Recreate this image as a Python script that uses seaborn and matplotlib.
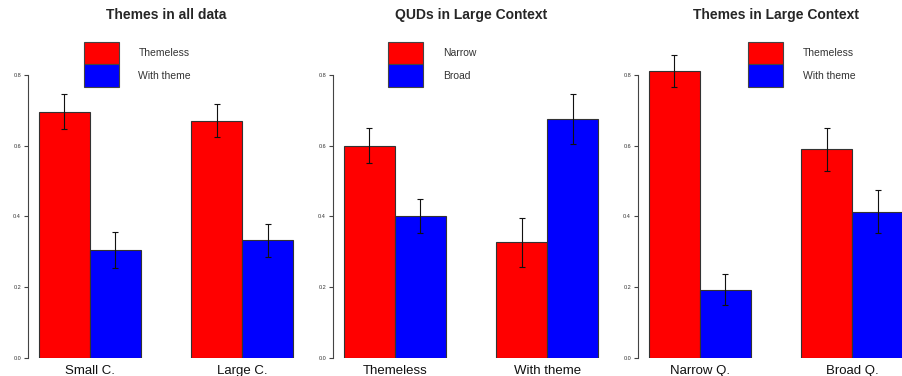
import pandas as pd
import matplotlib.pyplot as plt
from matplotlib.patches import Patch
import seaborn as sns

# Panel titles, group names, legend labels
titles = ['Themes in all data', 'QUDs in Large Context', 'Themes in Large Context']
groups = [['Small C.', 'Large C.'], ['Themeless', 'With theme'], ['Narrow Q.', 'Broad Q.']]
legends = [['Themeless', 'With theme'], ['Narrow', 'Broad'], ['Themeless', 'With theme']]

# red (first) and blue (second) series per panel, with error sizes
red_vals = [[0.696, 0.670], [0.600, 0.327], [0.810, 0.589]]
blue_vals = [[0.305, 0.333], [0.401, 0.675], [0.194, 0.414]]
red_err = [[0.050, 0.046], [0.049, 0.070], [0.046, 0.061]]
blue_err = [[0.051, 0.047], [0.048, 0.070], [0.045, 0.061]]
colors = ['#ff0000', '#0000ff']

W, H = 902, 376
ax_left = [28, 333, 638]
leg_left = [83.5, 388, 748]

sns.set_style('white')
plt.rcParams['font.family'] = ['Liberation Sans', 'DejaVu Sans']

fig = plt.figure(figsize=(W / 100, H / 100), dpi=100)

for i in range(3):
    ax = fig.add_axes([ax_left[i] / W, (H - 358.3) / H, 276 / W, (358.3 - 21.5) / H])
    df = pd.DataFrame({
        'group': groups[i] * 2,
        'cond': [legends[i][0]] * 2 + [legends[i][1]] * 2,
        'value': red_vals[i] + blue_vals[i],
    })
    sns.barplot(data=df, x='group', y='value', hue='cond', palette=colors,
                width=2 / 3, gap=0, saturation=1, edgecolor='#333333',
                linewidth=0.8, legend=False, ax=ax)

    # error bars on top of the bars
    errs = [red_err[i][0], blue_err[i][0], red_err[i][1], blue_err[i][1]]
    bars = sorted(ax.patches, key=lambda p: p.get_x())
    xs = [p.get_x() + p.get_width() / 2 for p in bars]
    ys = [p.get_height() for p in bars]
    ax.errorbar(xs, ys, yerr=errs, fmt='none', ecolor='#111111',
                elinewidth=0.8, capsize=2, capthick=0.8)

    ax.set_xlim(-0.405, 1.405)
    ax.set_ylim(0, 0.95)
    ax.set_xlabel('')
    ax.set_ylabel('')
    ax.set_yticks([0, 0.2, 0.4, 0.6, 0.8])
    ax.set_yticklabels(['0.0', '0.2', '0.4', '0.6', '0.8'])
    sns.despine(ax=ax, bottom=True)
    ax.spines['left'].set_bounds(0, 0.8)
    ax.spines['left'].set_color('#444444')
    ax.spines['left'].set_linewidth(0.8)
    ax.tick_params(axis='y', left=True, length=3, width=0.8, color='#444444',
                   labelsize=4, labelcolor='#333333', pad=2)
    ax.tick_params(axis='x', bottom=False, labelsize=9.5, labelcolor='#111111', pad=1.5)
    ax.set_title(titles[i], fontsize=10, fontweight='bold', pad=1.8)

    handles = [Patch(facecolor=c, edgecolor='#444444', linewidth=0.8) for c in colors]
    fig.legend(handles, legends[i], loc='upper left',
               bbox_to_anchor=(leg_left[i] / W, 1 - 41.7 / H), bbox_transform=fig.transFigure,
               frameon=False, fontsize=7.5, handlelength=3.36, handleheight=2.99,
               labelspacing=0, handletextpad=1.92, borderpad=0, borderaxespad=0,
               labelcolor='#333333')

plt.savefig('out.png', dpi=100)
